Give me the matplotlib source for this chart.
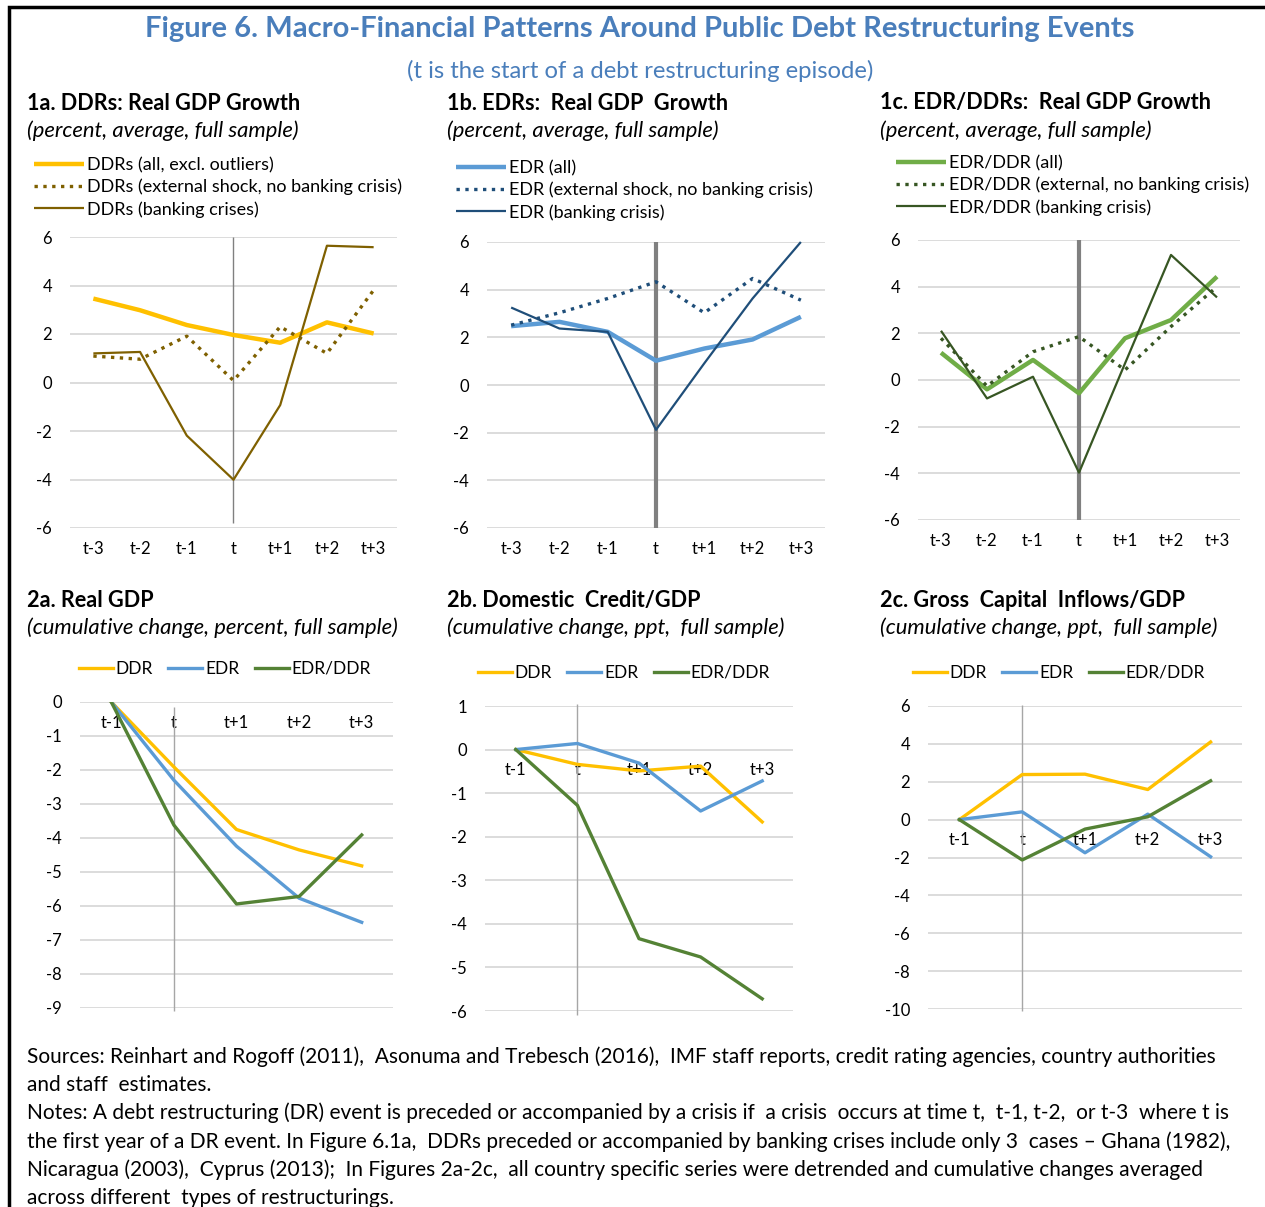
import matplotlib
matplotlib.use('Agg')
import matplotlib.pyplot as plt
from matplotlib.patches import Rectangle

plt.rcParams['font.family'] = ['Lato', 'DejaVu Sans']
plt.rcParams['axes.unicode_minus'] = False  # plain hyphen minus like the original

W, H = 1265, 1207  # output size in pixels

# ---- data ----
cats1 = ['t-3', 't-2', 't-1', 't', 't+1', 't+2', 't+3']
ddr_all = [3.46, 2.98, 2.37, 1.96, 1.64, 2.48, 2.02]
ddr_ext = [1.09, 0.96, 1.91, 0.08, 2.30, 1.20, 3.81]
ddr_bank = [1.20, 1.26, -2.19, -4.01, -0.93, 5.64, 5.58]
edr_all = [2.47, 2.65, 2.23, 1.02, 1.53, 1.91, 2.86]
edr_ext = [2.51, 3.03, 3.63, 4.33, 3.03, 4.47, 3.56]
edr_bank = [3.25, 2.37, 2.23, -1.88, 0.91, 3.63, 6.00]
mix_all = [1.17, -0.40, 0.86, -0.57, 1.79, 2.57, 4.43]
mix_ext = [1.79, -0.26, 1.21, 1.86, 0.43, 2.29, 4.00]
mix_bank = [2.11, -0.79, 0.14, -3.97, 0.71, 5.36, 3.54]

cats2 = ['t-1', 't', 't+1', 't+2', 't+3']
gdp_ddr = [0, -1.91, -3.75, -4.35, -4.82]
gdp_edr = [0, -2.30, -4.24, -5.77, -6.48]
gdp_mix = [0, -3.62, -5.94, -5.72, -3.91]
cred_ddr = [0, -0.34, -0.49, -0.38, -1.66]
cred_edr = [0, 0.14, -0.31, -1.41, -0.72]
cred_mix = [0, -1.28, -4.34, -4.76, -5.72]
cap_ddr = [0, 2.38, 2.40, 1.59, 4.10]
cap_edr = [0, 0.41, -1.75, 0.29, -1.96]
cap_mix = [0, -2.13, -0.50, 0.15, 2.05]

#colours
c_ddr, c_ddr_d = '#FFC000', '#7F6000'
c_edr, c_edr_d = '#5B9BD5', '#1F4E79'
c_mix, c_mix_d = '#70AD47', '#375623'
c_mix2 = '#548235'
blue_title = '#4A7EBB'

fig = plt.figure(figsize=(W/100, H/100), dpi=100)

def box(x0, y0, x1, y1):
    return [x0/W, 1-y1/H, (x1-x0)/W, (y1-y0)/H]

def fx(x):
    return x/W

def fy(y):
    return 1-y/H

# border (top and left only)
fig.patches.append(Rectangle((fx(9), fy(1300)), fx(1300), fy(7.5)-fy(1300), transform=fig.transFigure,
                             fill=False, edgecolor='black', lw=2.5))

fig.text(fx(640), fy(29), 'Figure 6. Macro-Financial Patterns Around Public Debt Restructuring Events',
         ha='center', va='center', fontsize=21, fontweight='bold', color=blue_title)
fig.text(fx(640), fy(71), '(t is the start of a debt restructuring episode)',
         ha='center', va='center', fontsize=17.2, color=blue_title)

def style(ax, ylim, yticks, zero_axis=False):
    ax.set_ylim(ylim)
    ax.set_yticks(yticks)
    ax.set_xlim(-0.5, len(ax.get_xticks()) - 0.5)
    ax.grid(axis='y', color='#D9D9D9', lw=1.3)
    ax.set_axisbelow(True)
    for s in ax.spines.values():
        s.set_visible(False)
    if zero_axis:
        ax.spines['bottom'].set_position(('data', 0))
    ax.tick_params(axis='both', length=0, labelsize=12, colors='black')
    ax.tick_params(axis='y', pad=13)
    ax.tick_params(axis='x', pad=9)

def heading(x, y, title, sub):
    fig.text(fx(x), fy(y), title, ha='left', va='center', fontsize=15.6, fontweight='bold')
    fig.text(fx(x), fy(y+28), sub, ha='left', va='center', fontsize=15.8, style='italic')

# ---- row 1 ----
row1 = [
    (box(70, 237, 397, 528), (27, 103), '1a. DDRs: Real GDP Growth',
     [(ddr_all, c_ddr, '-', 3.2, 'DDRs (all, excl. outliers)'),
      (ddr_ext, c_ddr_d, ':', 2.4, 'DDRs (external shock, no banking crisis)'),
      (ddr_bank, c_ddr_d, '-', 1.6, 'DDRs (banking crises)')],
     (34, 157), ('#808080', 1.0, -5.8)),
    (box(487, 242, 825, 528), (447, 103), '1b. EDRs:  Real GDP  Growth',
     [(edr_all, c_edr, '-', 3.2, 'EDR (all)'),
      (edr_ext, c_edr_d, ':', 2.4, 'EDR (external shock, no banking crisis)'),
      (edr_bank, c_edr_d, '-', 1.6, 'EDR (banking crisis)')],
     (456, 160), ('#808080', 3.0, -6.0)),
    (box(918, 240, 1240, 520), (880, 103), '1c. EDR/DDRs:  Real GDP Growth',
     [(mix_all, c_mix, '-', 3.2, 'EDR/DDR (all)'),
      (mix_ext, c_mix_d, ':', 2.4, 'EDR/DDR (external, no banking crisis)'),
      (mix_bank, c_mix_d, '-', 1.6, 'EDR/DDR (banking crisis)')],
     (896, 155), ('#808080', 3.0, -6.1)),
]

x1 = list(range(len(cats1)))
for rect, hpos, title, series, legpos, vline in row1:
    ax = fig.add_axes(rect)
    for vals, col, ls, lw, lab in series:
        ax.plot(x1, vals, color=col, ls=ls, lw=lw, label=lab, clip_on=False, solid_capstyle='butt')
    ax.set_xticks(x1)
    ax.set_xticklabels(cats1)
    style(ax, (-6, 6), range(-6, 7, 2))
    ax.vlines(cats1.index('t'), vline[2], 6, color=vline[0], lw=vline[1], zorder=1.5)
    heading(hpos[0], hpos[1], title, '(percent, average, full sample)')
    ax.legend(loc='upper left', bbox_to_anchor=(fx(legpos[0]), fy(legpos[1])), bbox_transform=fig.transFigure,
              frameon=False, fontsize=13, handlelength=2.75, handletextpad=0.2, labelspacing=0.32,
              borderaxespad=0, borderpad=0)

# ---- row 2 ----
row2 = [
    (box(80, 702, 393, 1008), (27, 600), '2a. Real GDP', '(cumulative change, percent, full sample)',
     gdp_ddr, gdp_edr, gdp_mix, (-9, 0), range(-9, 1), (79, 669)),
    (box(485, 706, 793, 1011), (447, 600), '2b. Domestic  Credit/GDP', '(cumulative change, ppt,  full sample)',
     cred_ddr, cred_edr, cred_mix, (-6, 1), range(-6, 2), (478, 673)),
    (box(928, 706, 1242, 1009), (880, 600), '2c. Gross  Capital  Inflows/GDP', '(cumulative change, ppt,  full sample)',
     cap_ddr, cap_edr, cap_mix, (-10, 6), range(-10, 7, 2), (913, 673)),
]

x2 = list(range(len(cats2)))
for rect, hpos, title, sub, s_ddr, s_edr, s_mix, ylim, yt, legpos in row2:
    ax = fig.add_axes(rect)
    ax.plot(x2, s_ddr, color=c_ddr, lw=2.4, label='DDR')
    ax.plot(x2, s_edr, color=c_edr, lw=2.4, label='EDR')
    ax.plot(x2, s_mix, color=c_mix2, lw=2.4, label='EDR/DDR')
    ax.set_xticks(x2)
    ax.set_xticklabels(cats2)
    style(ax, ylim, yt, zero_axis=True)
    ytop = ylim[1] - 0.15 if ylim[1] == 0 else ylim[1] + 0.05
    ax.vlines(cats2.index('t'), ylim[0] - 0.1, ytop, color='#A6A6A6', lw=1.0, zorder=1.5, clip_on=False)
    heading(hpos[0], hpos[1], title, sub)
    ax.legend(loc='center left', bbox_to_anchor=(fx(legpos[0]), fy(legpos[1])), bbox_transform=fig.transFigure,
              ncol=3, frameon=False, fontsize=12.5, handlelength=1.95, handletextpad=0.15, columnspacing=0.9,
              borderaxespad=0, borderpad=0)

# ---- notes ----
notes = [
    'Sources: Reinhart and Rogoff (2011),  Asonuma and Trebesch (2016),  IMF staff reports, credit rating agencies, country authorities',
    'and staff  estimates.',
    'Notes: A debt restructuring (DR) event is preceded or accompanied by a crisis if  a crisis  occurs at time t,  t-1, t-2,  or t-3  where t is',
    'the first year of a DR event. In Figure 6.1a,  DDRs preceded or accompanied by banking crises include only 3  cases \u2013 Ghana (1982),',
    'Nicaragua (2003),  Cyprus (2013);  In Figures 2a-2c,  all country specific series were detrended and cumulative changes averaged',
    'across different  types of restructurings.',
]
ys = [1057, 1085, 1113, 1142, 1170, 1198]
for t, y in zip(notes, ys):
    fig.text(fx(27), fy(y), t, ha='left', va='center', fontsize=15)

fig.savefig('out.png', dpi=100)
